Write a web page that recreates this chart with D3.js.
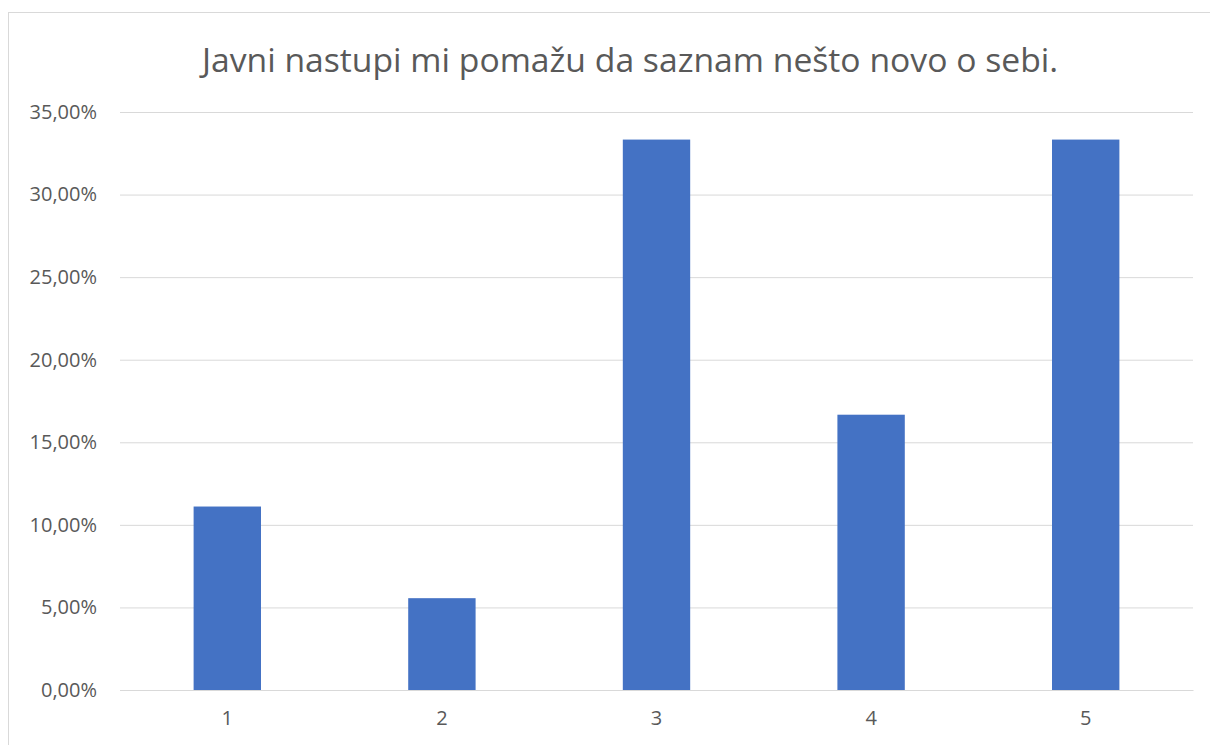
<!DOCTYPE html>
<html><head><meta charset="utf-8">
<script src="https://cdn.jsdelivr.net/npm/d3@7"></script>
<style>body{margin:0;background:#fff;}svg{display:block;}</style>
</head><body>
<svg id="c" width="1210" height="745"></svg>
<script>
const title = "Javni nastupi mi pomažu da saznam nešto novo o sebi.";
const categories = ["1","2","3","4","5"];
const values = [0.1111, 0.0556, 0.3333, 0.1667, 0.3333];
const yTicks = [0, 0.05, 0.10, 0.15, 0.20, 0.25, 0.30, 0.35];

const svg = d3.select("#c");
const font = "'Open Sans', sans-serif";
const W = 1210, H = 745;
const m = {left:120, right:W-1193, top:112, bottom:H-690};

// outer chart border
svg.append("rect").attr("x",8.5).attr("y",12.5).attr("width",1300).attr("height",800)
  .attr("fill","#fff").attr("stroke","#d9d9d9").attr("stroke-width",1);

const x = d3.scaleBand().domain(categories).range([m.left, W-m.right]).paddingInner(0.686).paddingOuter(0.343);
const y = d3.scaleLinear().domain([0,0.35]).range([H-m.bottom, m.top]);

const fmt = v => d3.format(".2f")(v*100).replace(".",",") + "%";

const yAxis = d3.axisLeft(y).tickValues(yTicks).tickSize(-(W-m.left-m.right)).tickFormat(fmt).tickPadding(23);
const gy = svg.append("g").attr("transform",`translate(${m.left},0)`).call(yAxis);
gy.select(".domain").remove();
gy.selectAll(".tick line").attr("stroke","#d9d9d9").attr("stroke-width",1);
gy.selectAll(".tick text").attr("fill","#595959").style("font-family",font).style("font-size","20px");

svg.append("g").selectAll("rect").data(values).join("rect")
  .attr("x",(d,i)=>x(categories[i])).attr("width",x.bandwidth())
  .attr("y",d=>y(d)).attr("height",d=>y(0)-y(d)).attr("fill","#4472c4");

const xAxis = d3.axisBottom(x).tickSize(0).tickPadding(21);
const gx = svg.append("g").attr("transform",`translate(0,${H-m.bottom})`).call(xAxis);
gx.select(".domain").attr("stroke","#d9d9d9");
gx.selectAll(".tick text").attr("fill","#595959").style("font-family",font).style("font-size","20px");

svg.append("text").attr("x",630).attr("y",72).attr("text-anchor","middle")
  .attr("fill","#595959").style("font-family",font).style("font-size","33.7px").text(title);
</script>
</body></html>
